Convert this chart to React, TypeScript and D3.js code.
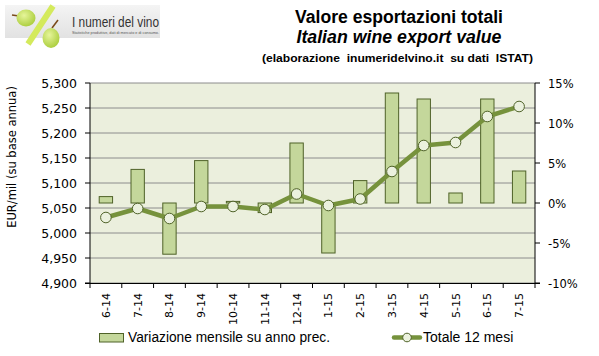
import React from "react";
import * as d3 from "d3";

const categories = ["6-14","7-14","8-14","9-14","10-14","11-14","12-14","1-15","2-15","3-15","4-15","5-15","6-15","7-15"];
const monthlyChangePct = [0.8, 4.2, -6.4, 5.3, 0.2, -1.2, 7.5, -6.25, 2.8, 13.75, 13.0, 1.25, 13.0, 4.0];
const total12Months = [5031, 5049, 5029, 5053, 5053, 5047, 5078, 5055, 5068, 5123, 5175, 5181, 5233, 5253];
const leftTicks = [4900, 4950, 5000, 5050, 5100, 5150, 5200, 5250, 5300];
const rightTicks = [-10, -5, 0, 5, 10, 15];

const W = 599, H = 356;
const X0 = 90, X1 = 535, Y0 = 83, Y1 = 283;

export default function App() {
  const x = d3.scaleBand<string>().domain(categories).range([X0, X1]).paddingInner(0).paddingOuter(0);
  const yL = d3.scaleLinear().domain([4900, 5300]).range([Y1, Y0]);
  const yR = d3.scaleLinear().domain([-10, 15]).range([Y1, Y0]);
  const bw = x.bandwidth() * 0.42;
  const line = d3.line<number>()
    .x((_, i) => (x(categories[i]) as number) + x.bandwidth() / 2)
    .y((d) => yL(d));
  const fmt = d3.format(",");
  const axisFont = "'DejaVu Sans', Verdana, sans-serif";
  const textFont = "'Liberation Sans', Arial, sans-serif";
  const barFill = "#C4D79B";
  const barStroke = "#4F6228";
  const lineColor = "#76923C";
  const markerFill = "#EBF1DE";

  return (
    <svg width={W} height={H} style={{ position: "absolute", left: 0, top: 0, background: "#fff" }}>
      <defs>
        <linearGradient id="logoBg" x1="0" y1="0" x2="0" y2="1">
          <stop offset="0" stopColor="#f4f4f4" />
          <stop offset="1" stopColor="#e2e2e2" />
        </linearGradient>
        <radialGradient id="grape" cx="0.4" cy="0.35" r="0.7">
          <stop offset="0" stopColor="#e6f59a" />
          <stop offset="1" stopColor="#a9cc3a" />
        </radialGradient>
      </defs>
      {/* Logo */}
      <rect x={5} y={5} width={155} height={33} fill="url(#logoBg)" />
      <line x1={12} y1={15} x2={19} y2={16} stroke="#7a4a1a" strokeWidth={1.5} />
      <ellipse cx={26} cy={18} rx={9.5} ry={8.5} fill="url(#grape)" />
      <line x1={28} y1={44} x2={53} y2={6} stroke="#d4ea5c" strokeWidth={6} strokeLinecap="butt" />
      <line x1={52} y1={28} x2={58} y2={20} stroke="#7a4a1a" strokeWidth={1.5} />
      <ellipse cx={51} cy={38} rx={8.5} ry={10} fill="url(#grape)" />
      <text x={72} y={27} fontFamily={textFont} fontSize={15} fill="#333" textLength={87} lengthAdjust="spacingAndGlyphs">I numeri del vino</text>
      <text x={72} y={34} fontFamily={textFont} fontSize={4} fill="#555" textLength={87} lengthAdjust="spacingAndGlyphs">Statistiche produttive, dati di mercato e di consumo.</text>

      {/* Titles */}
      <text x={399} y={23} textAnchor="middle" fontFamily={textFont} fontWeight="bold" fontSize={18} fill="#000" textLength={208} lengthAdjust="spacingAndGlyphs">Valore esportazioni totali</text>
      <text x={399} y={42.5} textAnchor="middle" fontFamily={textFont} fontWeight="bold" fontStyle="italic" fontSize={18} fill="#000" textLength={205} lengthAdjust="spacingAndGlyphs">Italian wine export value</text>
      <text x={397.5} y={61.5} textAnchor="middle" fontFamily={textFont} fontWeight="bold" fontSize={11.5} fill="#000" textLength={271} lengthAdjust="spacingAndGlyphs" style={{ whiteSpace: "pre" }}>{"(elaborazione  inumeridelvino.it  su dati  ISTAT)"}</text>

      {/* Plot background */}
      <rect x={X0} y={Y0} width={X1 - X0} height={Y1 - Y0} fill="#EBEFDD" />
      {leftTicks.map((t) => (
        <line key={"g" + t} x1={X0} x2={X1} y1={yL(t)} y2={yL(t)} stroke="#8c8c8c" strokeWidth={1} />
      ))}

      {/* Bars */}
      {monthlyChangePct.map((v, i) => {
        const cx = (x(categories[i]) as number) + x.bandwidth() / 2;
        const y0 = yR(0), yv = yR(v);
        return (
          <rect key={"b" + i} x={cx - bw / 2} y={Math.min(y0, yv)} width={bw} height={Math.abs(yv - y0)}
            fill={barFill} stroke={barStroke} strokeWidth={1} />
        );
      })}

      {/* Line */}
      <path d={line(total12Months) || ""} fill="none" stroke={lineColor} strokeWidth={4.5} strokeLinejoin="round" />
      {total12Months.map((v, i) => (
        <circle key={"m" + i} cx={(x(categories[i]) as number) + x.bandwidth() / 2} cy={yL(v)} r={5.3}
          fill={markerFill} stroke={barStroke} strokeWidth={1} />
      ))}

      {/* Axes */}
      <line x1={X0} x2={X0} y1={Y0} y2={Y1} stroke="#000" />
      <line x1={X1} x2={X1} y1={Y0} y2={Y1} stroke="#000" />
      <line x1={X0 - 5} x2={X1 + 5} y1={Y1 + 0.5} y2={Y1 + 0.5} stroke="#000" />
      {leftTicks.map((t) => (
        <g key={"l" + t}>
          <line x1={X0 - 5} x2={X0} y1={yL(t)} y2={yL(t)} stroke="#000" />
          <text x={77} y={yL(t) + 4.5} textAnchor="end" fontFamily={axisFont} fontSize={12.5} fill="#000">{fmt(t)}</text>
        </g>
      ))}
      {rightTicks.map((t) => (
        <g key={"r" + t}>
          <line x1={X1} x2={X1 + 5} y1={yR(t)} y2={yR(t)} stroke="#000" />
          <text x={548} y={yR(t) + 4.5} textAnchor="start" fontFamily={axisFont} fontSize={11.5} fill="#000">{t + "%"}</text>
        </g>
      ))}
      {categories.map((c, i) => {
        const bx = x(c) as number;
        const cx = bx + x.bandwidth() / 2;
        return (
          <g key={"x" + c}>
            <line x1={bx} x2={bx} y1={Y1} y2={Y1 + 5} stroke="#000" />
            {i === categories.length - 1 && <line x1={bx + x.bandwidth()} x2={bx + x.bandwidth()} y1={Y1} y2={Y1 + 5} stroke="#000" />}
            <text transform={`translate(${cx + 4},${293}) rotate(-90)`} textAnchor="end" fontFamily={axisFont} fontSize={11} fill="#000">{c}</text>
          </g>
        );
      })}

      {/* Y axis title */}
      <text transform={`translate(16,157) rotate(-90)`} textAnchor="middle" fontFamily={axisFont} fontSize={11.5} fill="#000">EUR/mil  (su base annua)</text>

      {/* Legend */}
      <rect x={99.5} y={333.5} width={24} height={8.5} fill={barFill} stroke={barStroke} strokeWidth={1} />
      <text x={128} y={342} fontFamily={textFont} fontSize={14} fill="#000" textLength={202} lengthAdjust="spacingAndGlyphs">Variazione mensile su anno prec.</text>
      <line x1={394} x2={420} y1={337.5} y2={337.5} stroke={lineColor} strokeWidth={4.5} strokeLinecap="round" />
      <circle cx={407} cy={337.5} r={4.3} fill={markerFill} stroke={barStroke} strokeWidth={1} />
      <text x={423} y={342} fontFamily={textFont} fontSize={14} fill="#000">Totale 12 mesi</text>
    </svg>
  );
}
